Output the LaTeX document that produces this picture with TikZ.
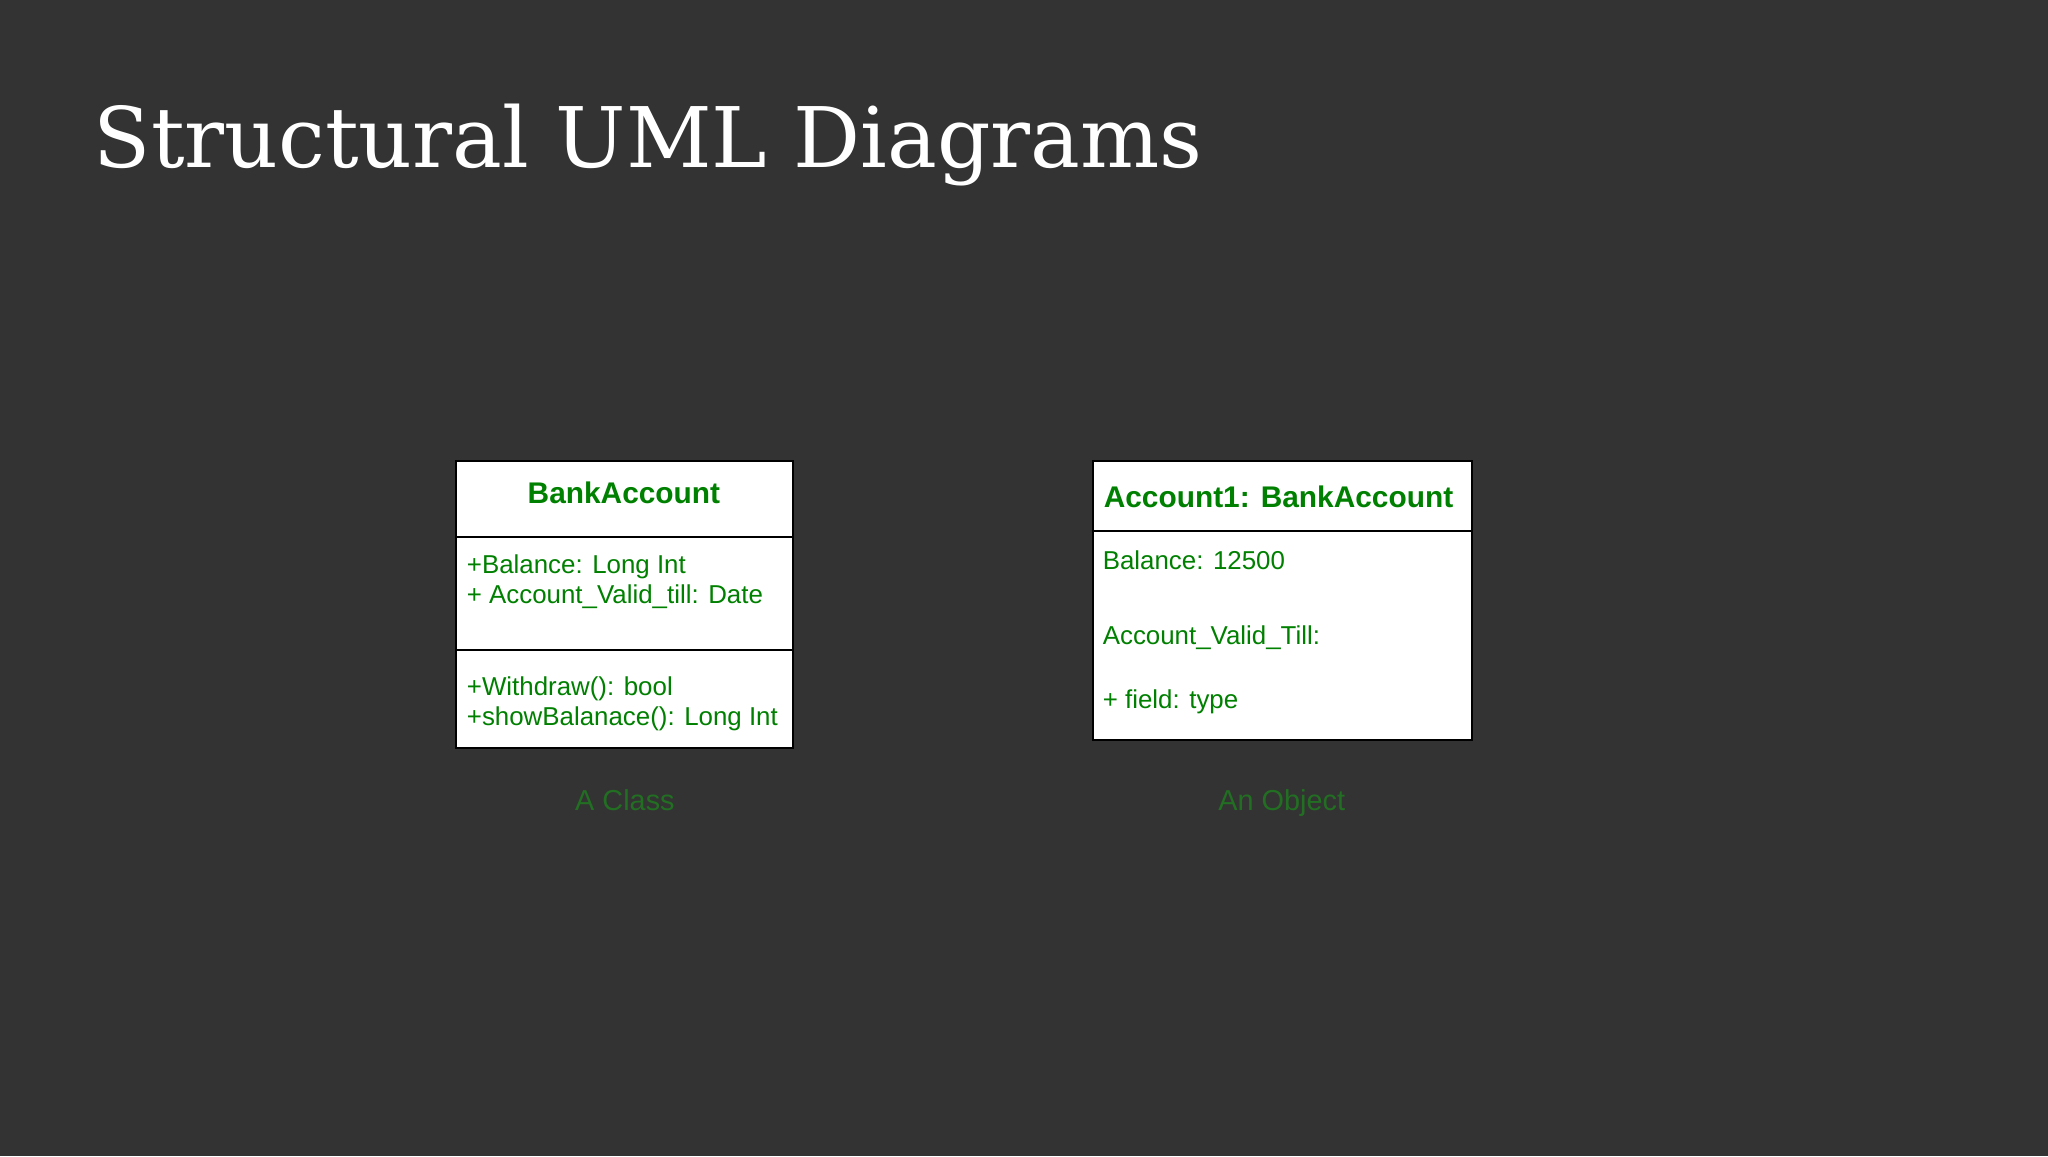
\documentclass[tikz,border=0pt]{standalone}
\usepackage{fontspec}
\setmainfont{Liberation Sans}
\newfontfamily\titlefont{DejaVu Serif}
\begin{document}
\begin{tikzpicture}[x=1pt,y=-1pt,
  umlbox/.style={draw=black,line width=2pt,fill=white,inner sep=0pt,anchor=north west},
  umltxt/.style={anchor=west,inner sep=0pt,text=green!50!black,font=\fontsize{26}{28}\selectfont},
  umlhead/.style={inner sep=0pt,text=green!50!black,font=\fontsize{30}{34}\selectfont\bfseries},
  caption/.style={inner sep=0pt,anchor=base,text={rgb,255:red,34;green,110;blue,34},font=\fontsize{29}{32}\selectfont}]
\fill[fill={rgb,255:red,51;green,51;blue,51}] (-5,-5) rectangle (2053,1157);
\useasboundingbox (0,0) rectangle (2048,1152);
\node[anchor=base west,inner sep=0pt,text=white,font=\titlefont\fontsize{84}{92}\selectfont] (title) at (89,163) {Structural UML Diagrams};
% class
\node[umlbox,minimum width=339pt,minimum height=289pt] (cls) at (452,457) {};
\draw[line width=2pt] (452,535) coordinate (c1a) -- (791,535) coordinate (c1b);
\draw[line width=2pt] (452,648) coordinate (c2a) -- (791,648) coordinate (c2b);
\node[umlhead] (clsname) at (622,490) {BankAccount};
\node[umltxt] (a1) at (464,565) {+Balance: Long Int};
\node[umltxt] (a2) at (464,595) {+ Account\_Valid\_till: Date};
\node[umltxt] (m1) at (464,687) {+Withdraw(): bool};
\node[umltxt] (m2) at (464,717) {+showBalanace(): Long Int};
\node[caption] (capc) at (623,809) {A Class};
% object
\node[umlbox,minimum width=381pt,minimum height=281pt] (obj) at (1092,457) {};
\draw[line width=2pt] (1092,529) coordinate (o1a) -- (1473,529) coordinate (o1b);
\node[umlhead,anchor=west] (objname) at (1104,494) {Account1: BankAccount};
\node[umltxt] (b1) at (1103,558) {Balance: 12500};
\node[umltxt] (b2) at (1103,636) {Account\_Valid\_Till:};
\node[umltxt] (b3) at (1103,700) {+ field: type};
\node[caption] (capo) at (1283,809) {An Object};
\end{tikzpicture}
\end{document}
